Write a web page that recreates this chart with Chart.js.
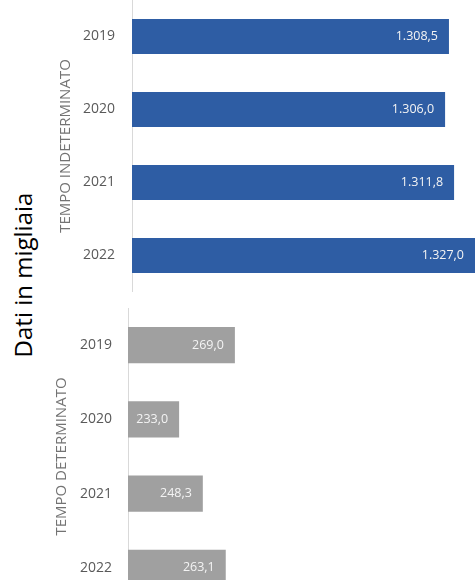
<!DOCTYPE html>
<html>
<head>
<meta charset="utf-8">
<script src="https://cdn.jsdelivr.net/npm/chart.js@4.4.0/dist/chart.umd.min.js"></script>
<style>
  html, body { margin: 0; padding: 0; background: #fff; }
  body { width: 475px; height: 580px; overflow: hidden; position: relative; }
  #chartTop { position: absolute; left: 0; top: 0; }
  #chartBottom { position: absolute; left: 0; top: 308px; }
  #unitLabel {
    position: absolute; left: 22px; top: 275px;
    transform: translate(-50%, -50%) rotate(-90deg);
    font-family: "Open Sans", sans-serif; font-size: 24px; color: #000;
    white-space: nowrap;
  }
</style>
</head>
<body>

<div id="unitLabel">Dati in migliaia</div>
<canvas id="chartTop" width="475" height="292"></canvas>
<canvas id="chartBottom" width="475" height="297"></canvas>

<script>

const years = ['2019', '2020', '2021', '2022'];

const indeterminato = [1308.5, 1306.0, 1311.8, 1327.0];
const determinato = [269.0, 233.0, 248.3, 263.1];

const titleIndeterminato = 'TEMPO INDETERMINATO';
const titleDeterminato = 'TEMPO DETERMINATO';


// 1308.5 -> "1.308,5"
function formatIt(v) {
    const parts = v.toFixed(1).split('.');
    const intPart = parts[0].replace(/\B(?=(\d{3})+(?!\d))/g, '.');
    return intPart + ',' + parts[1];
}


// white value labels drawn at the inner end of each bar
const valueLabels = {
    id: 'valueLabels',
    afterDatasetsDraw(chart) {
        const ctx = chart.ctx;
        const area = chart.chartArea;
        const meta = chart.getDatasetMeta(0);
        const data = chart.data.datasets[0].data;

        ctx.save();
        ctx.font = '12.5px "Open Sans", sans-serif';
        ctx.fillStyle = '#f4f4f4';
        ctx.textBaseline = 'middle';
        ctx.textAlign = 'left';

        meta.data.forEach((bar, i) => {
            const text = formatIt(data[i]);
            const w = ctx.measureText(text).width;
            const end = Math.min(bar.x, area.right);
            let x = end - 11 - w;
            if (x < bar.base + 12) {
                x = bar.base + 12;
            }
            ctx.fillText(text, x, bar.y);
        });

        ctx.restore();
    }
};


function makeChart(id, values, color, title, xMin, xMax, axisWidth, titlePad, tickPad, barPct) {

    const ctx = document.getElementById(id).getContext('2d');

    return new Chart(ctx, {
        type: 'bar',
        data: {
            labels: years,
            datasets: [{
                data: values,
                backgroundColor: color,
                borderWidth: 0,
                barPercentage: barPct,
                categoryPercentage: 1
            }]
        },
        options: {
            indexAxis: 'y',
            responsive: false,
            animation: false,
            layout: { padding: 0 },
            plugins: {
                legend: { display: false },
                tooltip: { enabled: false }
            },
            scales: {
                x: {
                    display: false,
                    min: xMin,
                    max: xMax
                },
                y: {
                    grid: { display: false, drawTicks: false },
                    border: { display: true, color: '#d9d9d9', width: 1 },
                    ticks: {
                        color: '#595959',
                        padding: tickPad,
                        font: { family: '"Open Sans", sans-serif', size: 14 }
                    },
                    title: {
                        display: true,
                        text: title,
                        color: '#737373',
                        padding: { top: titlePad, bottom: 0 },
                        font: { family: '"Open Sans", sans-serif', size: 15 }
                    },
                    afterFit(scale) {
                        scale.width = axisWidth;
                        scale.paddingTop = 0;
                        scale.paddingBottom = 0;
                    }
                }
            }
        },
        plugins: [valueLabels]
    });
}


makeChart('chartTop', indeterminato, '#2e5da4', titleIndeterminato, 1104, 1325.3, 132, 57, 17, 0.48);
makeChart('chartBottom', determinato, '#a0a0a0', titleDeterminato, 200, 424, 128, 53, 16, 0.486);

</script>
</body>
</html>
